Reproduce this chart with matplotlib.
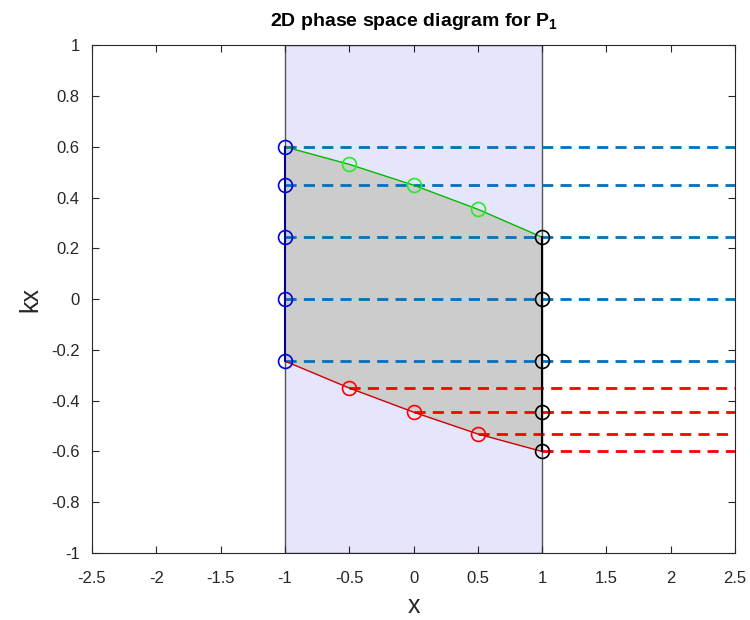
import numpy as np
import matplotlib.pyplot as plt

plt.rcParams['font.family'] = ['Liberation Sans', 'DejaVu Sans']
plt.rcParams['mathtext.fontset'] = 'custom'
plt.rcParams['mathtext.rm'] = 'Liberation Sans'
plt.rcParams['mathtext.bf'] = 'Liberation Sans:bold'

# boundary points of P_1
x_pts = [-1.0, -0.5, 0.0, 0.5, 1.0]
kx_top = [0.6, 0.531, 0.449, 0.354, 0.244]
kx_bot = [-0.244, -0.35, -0.445, -0.531, -0.6]

# points on the left (x=-1) and right (x=1) edges
kx_left = [0.6, 0.45, 0.244, 0.0, -0.244]
kx_right = [0.244, 0.0, -0.244, -0.445, -0.6]

# dashed lines: start x and level
blue_start = [-1, -1, -1, -1, -1]
blue_level = [0.6, 0.45, 0.244, 0.0, -0.244]
red_start = [-0.5, 0.0, 0.5, 1.0]
red_level = [-0.35, -0.445, -0.531, -0.6]

fig = plt.figure(figsize=(7.5, 6.2), dpi=100)
ax = fig.add_axes([0.1227, 0.108, 0.8573, 0.819])

# domain rectangle
ax.fill([-1, 1, 1, -1], [-1, -1, 1, 1], facecolor='#e5e5fc', edgecolor='#555555', lw=1, zorder=1)

# phase space region
poly_x = list(x_pts) + list(x_pts[::-1])
poly_y = list(kx_top) + list(kx_bot[::-1])
ax.fill(poly_x, poly_y, facecolor='#cccccc', edgecolor='none', zorder=2)

for xs, yl in zip(blue_start, blue_level):
    ax.plot([xs, 2.5], [yl, yl], color='#0072bd', ls='--', lw=2, dashes=(4, 2.6), zorder=3)
for xs, yl in zip(red_start, red_level):
    ax.plot([xs, 2.5], [yl, yl], color='red', ls='--', lw=2, dashes=(4, 2.6), zorder=3)

ax.plot(x_pts, kx_top, color='#00bb00', lw=1, zorder=4)
ax.plot(x_pts, kx_bot, color='#cc0000', lw=1, zorder=4)
ax.plot([-1, -1], [kx_left[0], kx_left[-1]], color='#000088', lw=1.5, zorder=4)
ax.plot([1, 1], [kx_right[0], kx_right[-1]], color='black', lw=1.5, zorder=4)

mk = dict(marker='o', ls='none', ms=10, mfc='none', mew=1.2, zorder=5)
ax.plot(x_pts[1:4], kx_top[1:4], mec='#22ee22', **mk)
ax.plot(x_pts[1:4], kx_bot[1:4], mec='red', **mk)
ax.plot([1] * len(kx_right), kx_right, mec='black', **mk)
ax.plot([-1] * len(kx_left), kx_left, mec='#0000dd', **mk)

ax.set_xlim(-2.5, 2.5)
ax.set_ylim(-1, 1)
ax.set_xticks(np.arange(-2.5, 2.51, 0.5))
ax.set_yticks(np.arange(-1, 1.01, 0.2))
ax.set_xticklabels(['-2.5', '-2', '-1.5', '-1', '-0.5', '0', '0.5', '1', '1.5', '2', '2.5'])
ax.set_yticklabels(['-1', '-0.8', '-0.6', '-0.4', '-0.2', '0', '0.2', '0.4', '0.6', '0.8', '1'])
ax.tick_params(direction='in', top=True, right=True, labelsize=12, length=5, color='#262626', labelcolor='#262626')
ax.tick_params(axis='x', pad=13)
ax.tick_params(axis='y', pad=9)
for s in ax.spines.values():
    s.set_color('#262626')
    s.set_linewidth(0.8)

ax.set_xlabel('x', fontsize=18, color='#262626', labelpad=6)
ax.set_ylabel('kx', fontsize=18, color='#262626', labelpad=6)
ax.set_title('2D phase space diagram for P$_\\mathbf{1}$', fontsize=14, fontweight='bold', pad=14)

fig.savefig('out.png', dpi=100)
